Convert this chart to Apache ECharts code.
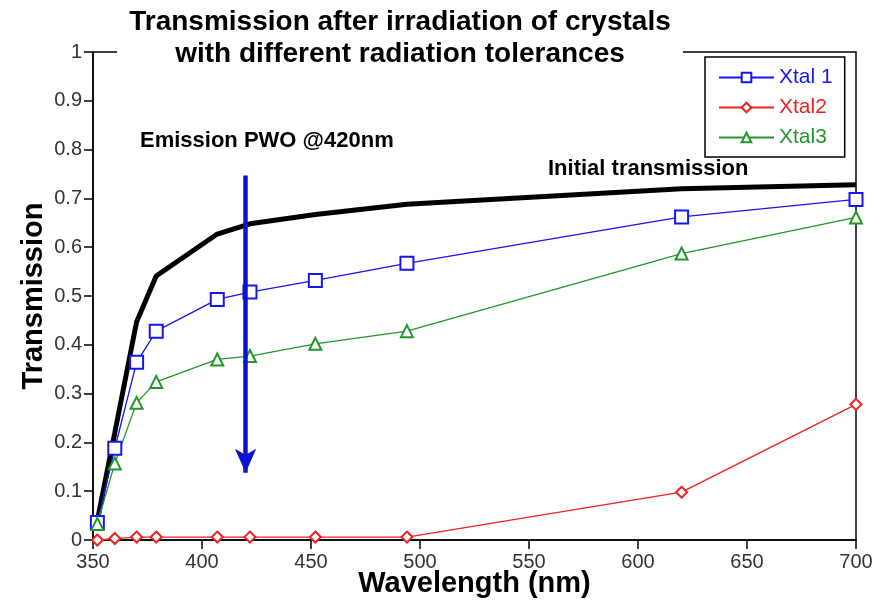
<!DOCTYPE html>
<html>
<head>
<meta charset="utf-8">
<script src="https://cdn.jsdelivr.net/npm/echarts@6/dist/echarts.min.js"></script>
<style>
  html, body { margin: 0; padding: 0; background: #fff; }
  #chart { width: 881px; height: 603px; }
</style>
</head>
<body>
<div id="chart"></div>
<script>
// Wavelengths (nm) at which transmission was measured
const wavelengths = [352, 360, 370, 379, 407, 422, 452, 494, 620, 700];
// Transmission before irradiation
const initialTransmission = [0.04, 0.22, 0.447, 0.541, 0.627, 0.648, 0.667, 0.688, 0.72, 0.728];
// Transmission after irradiation, per crystal
const xtal1 = [0.036, 0.188, 0.364, 0.428, 0.493, 0.508, 0.532, 0.567, 0.662, 0.698];
const xtal2 = [0.0, 0.003, 0.006, 0.006, 0.006, 0.006, 0.006, 0.006, 0.098, 0.278];
const xtal3 = [0.033, 0.157, 0.281, 0.324, 0.370, 0.377, 0.402, 0.428, 0.587, 0.661];
// PWO emission peak marked with an arrow
const emissionPeak = 420;
const arrowFrom = 0.747;
const arrowTo = 0.138;
const xTicks = { min: 350, max: 700, interval: 50 };
const yTicks = { min: 0, max: 1, interval: 0.1 };

const FONT = '"Liberation Sans", Arial, Helvetica, sans-serif';
const BLUE = '#1515f5', RED = '#ee2020', GREEN = '#23962a';
const pairs = (ys) => wavelengths.map((x, i) => [x, ys[i]]);

const chart = echarts.init(document.getElementById('chart'), null, { renderer: 'canvas' });

const makeSeries = (name, ys, color, symbol, size) => ({
  name: name,
  type: 'line',
  data: pairs(ys),
  symbol: symbol,
  symbolSize: size,
  showAllSymbol: true,
  lineStyle: { color: color, width: 1.3 },
  itemStyle: { color: color, borderColor: color, borderWidth: 1.5 },
  z: 3
});

chart.setOption({
  animation: false,
  backgroundColor: '#fff',
  title: {
    text: 'Transmission after irradiation of crystals\nwith different radiation tolerances',
    left: 395,
    textAlign: 'center',
    top: 1,
    z: 20,
    textStyle: {
      fontFamily: FONT,
      fontSize: 28,
      fontWeight: 'bold',
      color: '#000',
      lineHeight: 32
    }
  },
  grid: {
    left: 93, right: 25, top: 52, bottom: 63,
    outerBoundsMode: 'none',
    containLabel: false,
    show: true,
    borderColor: '#000',
    borderWidth: 1.5,
    backgroundColor: 'transparent'
  },
  legend: {
    orient: 'vertical',
    left: 705,
    top: 57,
    padding: [10, 12, 9, 13],
    itemGap: 9,
    itemWidth: 55,
    itemHeight: 12,
    borderColor: '#000',
    borderWidth: 1.5,
    backgroundColor: '#fff',
    z: 15,
    textStyle: { fontFamily: FONT, fontSize: 21 },
    data: [
      { name: 'Xtal 1', textStyle: { color: BLUE } },
      { name: 'Xtal2', textStyle: { color: RED } },
      { name: 'Xtal3', textStyle: { color: GREEN } }
    ]
  },
  xAxis: {
    type: 'value',
    min: xTicks.min, max: xTicks.max, interval: xTicks.interval,
    name: 'Wavelength (nm)',
    nameLocation: 'middle',
    nameGap: 29,
    nameMoveOverlap: false,
    nameTextStyle: { fontFamily: FONT, fontSize: 29, fontWeight: 'bold', color: '#000' },
    axisLine: { lineStyle: { color: '#000', width: 1.5 } },
    axisTick: { show: true, inside: false, length: 9, lineStyle: { color: '#000', width: 1.5 } },
    axisLabel: { fontFamily: FONT, fontSize: 20, color: '#333', margin: 12 },
    splitLine: { show: false }
  },
  yAxis: {
    type: 'value',
    min: yTicks.min, max: yTicks.max, interval: yTicks.interval,
    name: 'Transmission',
    nameLocation: 'middle',
    nameGap: 45,
    nameMoveOverlap: false,
    nameRotate: 90,
    nameTextStyle: { fontFamily: FONT, fontSize: 29, fontWeight: 'bold', color: '#000' },
    axisLine: { show: true, lineStyle: { color: '#000', width: 1.5 } },
    axisTick: { show: true, inside: false, length: 9, lineStyle: { color: '#000', width: 1.5 } },
    axisLabel: { fontFamily: FONT, fontSize: 20, color: '#333', margin: 11 },
    splitLine: { show: false }
  },
  graphic: [
    // gap in the top frame behind the title
    { type: 'rect', z: 10, shape: { x: 117, y: 44, width: 566, height: 14 }, style: { fill: '#fff' } },
    {
      type: 'text', z: 12, left: 140, top: 130,
      style: { text: 'Emission PWO @420nm', font: 'bold 22px ' + FONT, fill: '#000' }
    },
    {
      type: 'text', z: 12, left: 548, top: 158,
      style: { text: 'Initial transmission', font: 'bold 22px ' + FONT, fill: '#000' }
    }
  ],
  series: [
    {
      name: 'Initial transmission',
      type: 'line',
      data: pairs(initialTransmission),
      symbol: 'none',
      lineStyle: { color: '#000', width: 5 },
      z: 2
    },
    makeSeries('Xtal 1', xtal1, BLUE, 'emptyRect', 13),
    makeSeries('Xtal2', xtal2, RED, 'emptyDiamond', 11),
    makeSeries('Xtal3', xtal3, GREEN, 'emptyTriangle', 12),
    {
      name: 'emission',
      type: 'line',
      data: [],
      z: 5,
      markLine: {
        silent: true,
        symbol: ['none', 'arrow'],
        symbolSize: [16, 24],
        label: { show: false },
        lineStyle: { color: '#0a14d0', width: 4.5, type: 'solid' },
        data: [[
          { coord: [emissionPeak, arrowFrom] },
          { coord: [emissionPeak, arrowTo] }
        ]]
      }
    }
  ]
});
</script>
</body>
</html>
